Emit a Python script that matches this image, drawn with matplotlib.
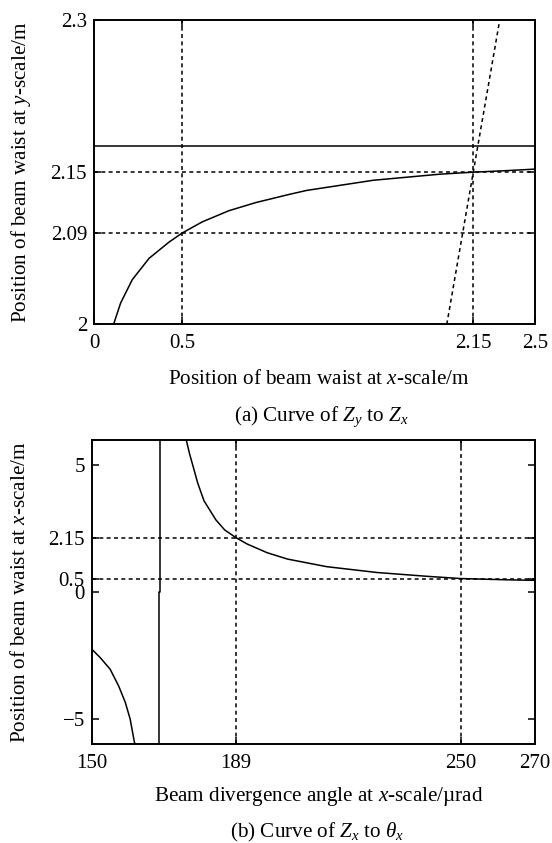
import matplotlib
matplotlib.use('Agg')
import matplotlib.pyplot as plt

# 글꼴: Times 계열
plt.rcParams['font.family'] = ['Liberation Serif', 'DejaVu Serif']
plt.rcParams['mathtext.fontset'] = 'custom'
plt.rcParams['mathtext.rm'] = 'Liberation Serif'
plt.rcParams['mathtext.it'] = 'Liberation Serif:italic'

# (a) Zy - Zx 데이터
zx_a = [0.113, 0.151, 0.217, 0.312, 0.425, 0.5, 0.614, 0.765, 0.917,
        1.105, 1.206, 1.583, 1.961, 2.15, 2.34, 2.5]
zy_a = [2.001, 2.021, 2.044, 2.065, 2.081, 2.090, 2.101, 2.112, 2.120,
        2.128, 2.132, 2.142, 2.148, 2.150, 2.1515, 2.153]
diag_x = [2.0, 2.3]
diag_y = [2.0, 2.3]
limit_a = 2.176
vlines_a = [0.5, 2.15]
hlines_a = [2.09, 2.15]
xticks_a = [0, 0.5, 2.15, 2.5]
yticks_a = [2, 2.09, 2.15, 2.3]

# (b) Zx - theta_x 데이터
th_left = [150.1, 152.3, 155.0, 157.3, 159.1, 160.4, 161.6, 162.0]
zx_left = [-2.27, -2.59, -3.05, -3.71, -4.36, -5.01, -5.96, -6.0]
th_pole = [168.3, 168.3, 168.6, 168.6]
zx_pole = [-6.0, 0.0, 0.0, 6.0]
th_right = [175.6, 176.5, 177.5, 178.7, 180.4, 183.6, 186.0, 189.0, 192.0,
            197.5, 203.0, 213.6, 227.2, 240.7, 250.0, 262.8, 270]
zx_right = [6.0, 5.45, 4.93, 4.30, 3.60, 2.85, 2.45, 2.15, 1.90,
            1.55, 1.30, 1.00, 0.77, 0.62, 0.53, 0.48, 0.46]
vlines_b = [189, 250]
hlines_b = [2.15, 0.5]
xticks_b = [150, 189, 250, 270]
yticks_b = [-5, 0, 0.5, 2.15, 5]

W, H = 552, 843
fig = plt.figure(figsize=(W / 100, H / 100), dpi=100)
ax1 = fig.add_axes([94 / W, 1 - 324.3 / H, 441 / W, 304.3 / H])
ax2 = fig.add_axes([91.7 / W, 1 - 744 / H, 443.3 / W, 304 / H])

lw = 1.1
dash = (0, (2.6, 2.2))
fs_lab = 15.2
fs_tick = 15

# (a)
ax1.plot(zx_a, zy_a, color='black', lw=lw)
ax1.plot(diag_x, diag_y, color='black', lw=lw, linestyle=dash)
ax1.axhline(limit_a, color='black', lw=lw)
for v in vlines_a:
    ax1.axvline(v, color='black', lw=lw, linestyle=dash)
for h in hlines_a:
    ax1.axhline(h, color='black', lw=lw, linestyle=dash)
ax1.set_xlim(0, 2.5)
ax1.set_ylim(2, 2.3)
ax1.set_xticks(xticks_a)
ax1.set_xticklabels(['0', '0.5', '2.15', '2.5'])
ax1.set_yticks(yticks_a)
ax1.set_yticklabels(['2', '2.09', '2.15', '2.3'])

# (b)
ax2.plot(th_left, zx_left, color='black', lw=lw)
ax2.plot(th_pole, zx_pole, color='black', lw=lw)
ax2.plot(th_right, zx_right, color='black', lw=lw)
for v in vlines_b:
    ax2.axvline(v, color='black', lw=lw, linestyle=dash)
for h in hlines_b:
    ax2.axhline(h, color='black', lw=lw, linestyle=dash)
ax2.set_xlim(150, 270)
ax2.set_ylim(-6, 6)
ax2.set_xticks(xticks_b)
ax2.set_yticks(yticks_b)
ax2.set_yticklabels(['\u22125', '0', '0.5', '2.15', '5'])

for ax in (ax1, ax2):
    ax.tick_params(direction='in', length=5, width=1.1, labelsize=fs_tick,
                   top=True, right=True)
    ax.tick_params(axis='x', pad=7)
    ax.tick_params(axis='y', pad=5)
    for s in ax.spines.values():
        s.set_linewidth(1.4)

# 축 제목과 캡션 (픽셀 위치 -> 그림 비율)
def ftext(x, y, s, **kw):
    fig.text(x / W, 1 - y / H, s, ha='center', va='center', fontsize=fs_lab, **kw)

ftext(21, 172, 'Position of beam waist at $y$-scale/m', rotation=90)
ftext(319, 380, 'Position of beam waist at $x$-scale/m')
ftext(321, 417, '(a) Curve of $Z_y$ to $Z_x$')
ftext(21, 592, 'Position of beam waist at $x$-scale/m', rotation=90)
ftext(319, 797, 'Beam divergence angle at $x$-scale/\u00b5rad')
ftext(317, 832, '(b) Curve of $Z_x$ to $\\theta_x$')

fig.savefig('out.png', dpi=100)
